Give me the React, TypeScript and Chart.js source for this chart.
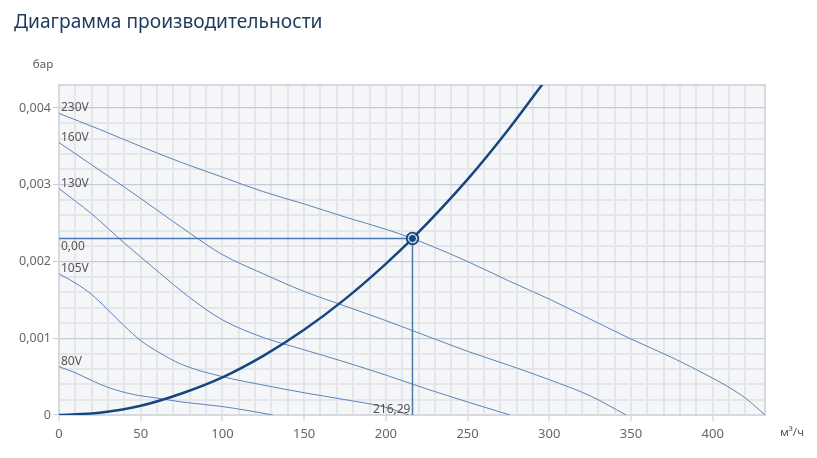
import { useEffect, useRef } from "react";
import { Chart, registerables } from "chart.js";

Chart.register(...registerables);

// fan curves (flow m³/h -> pressure bar)
const q230 = [0, 25, 50, 75, 100, 125, 150, 175, 200, 216.29, 250, 275, 300, 325, 350, 375, 400, 410, 420, 432];
const p230 = [0.00393, 0.00372, 0.0035, 0.00329, 0.0031, 0.00291, 0.00275, 0.00258, 0.00242, 0.0023, 0.002, 0.00175, 0.00151, 0.00125, 0.00099, 0.00075, 0.00048, 0.00036, 0.00022, 0];

const q160 = [0, 20, 40, 60, 80, 100, 125, 150, 175, 200, 225, 250, 275, 300, 325, 347];
const p160 = [0.00355, 0.00326, 0.00297, 0.00267, 0.00237, 0.00209, 0.00184, 0.00161, 0.00142, 0.00123, 0.00103, 0.00083, 0.00065, 0.00046, 0.00025, 0];

const q130 = [0, 20, 40, 60, 80, 100, 125, 150, 175, 200, 225, 250, 276];
const p130 = [0.00295, 0.00262, 0.00224, 0.00188, 0.00153, 0.00124, 0.00101, 0.00085, 0.00069, 0.00052, 0.00034, 0.00017, 0];

const q105 = [0, 10, 20, 30, 40, 50, 60, 75, 100, 125, 150, 175, 200, 214];
const p105 = [0.00184, 0.00172, 0.00157, 0.00137, 0.00116, 0.00097, 0.00083, 0.00066, 0.0005, 0.00039, 0.00029, 0.0002, 0.0001, 0];

const q80 = [0, 10, 20, 30, 45, 60, 75, 100, 115, 131];
const p80 = [0.00063, 0.00055, 0.00045, 0.00036, 0.00027, 0.00022, 0.00017, 0.00011, 0.00006, 0];

// system curve
const qSys = [0, 25, 50, 75, 100, 125, 150, 175, 200, 216.29, 250, 275, 300];
const pSys = [0, 0.00003, 0.00012, 0.00028, 0.00049, 0.00077, 0.00111, 0.00151, 0.00197, 0.0023, 0.00307, 0.00372, 0.00443];

const fanLabels = ["230V", "160V", "130V", "105V", "80V"];
const fanQ = [q230, q160, q130, q105, q80];
const fanP = [p230, p160, p130, p105, p80];

// operating point
const opQ = 216.29;
const opP = 0.0023;

const xMax = 432;
const yMax = 0.0043;

const FONT = "'Noto Sans', sans-serif";
const thin = "#5a85b8";
const dark = "#14477f";
const cross = "#4a78b0";

const pts = (q: number[], p: number[]) => q.map((v, i) => ({ x: v, y: p[i] }));
const isMajorY = (v: number) => Math.abs(v * 1000 - Math.round(v * 1000)) < 1e-6;
const isMajorX = (v: number) => v % 50 === 0;

const textPlugin = {
  id: "texts",
  beforeDatasetsDraw(chart: any) {
    const { ctx, chartArea: a } = chart;
    ctx.save();
    ctx.strokeStyle = "#d6d9de";
    ctx.lineWidth = 2;
    ctx.strokeRect(a.left, a.top, a.right - a.left, a.bottom - a.top);
    ctx.restore();
  },
  beforeDraw(chart: any) {
    const { ctx, chartArea: a } = chart;
    ctx.save();
    ctx.fillStyle = "#f5f6f8";
    ctx.fillRect(a.left, a.top, a.right - a.left, a.bottom - a.top);
    ctx.restore();
  },
  afterDraw(chart: any) {
    const { ctx, scales } = chart;
    const x = scales.x;
    const y = scales.y;
    ctx.save();
    ctx.fillStyle = "#1f3b5b";
    ctx.font = `19.2px ${FONT}`;
    ctx.textBaseline = "alphabetic";
    ctx.textAlign = "left";
    ctx.fillText("Диаграмма производительности", 14, 28);

    ctx.fillStyle = "#555";
    ctx.font = `12px ${FONT}`;
    fanLabels.forEach((l, i) => {
      ctx.fillText(l, x.getPixelForValue(fanQ[i][0]) + 2, y.getPixelForValue(fanP[i][0]) - 2);
    });
    ctx.textBaseline = "top";
    ctx.fillText(opP.toFixed(2).replace(".", ","), x.getPixelForValue(0) + 2, y.getPixelForValue(opP) + 2);
    ctx.textAlign = "right";
    ctx.textBaseline = "alphabetic";
    ctx.fillText(opQ.toFixed(2).replace(".", ","), x.getPixelForValue(opQ) - 2, y.getPixelForValue(0) - 2);

    ctx.font = `11.5px ${FONT}`;
    ctx.textAlign = "center";
    ctx.textBaseline = "middle";
    ctx.fillText("бар", 43, 65);
    ctx.textAlign = "left";
    ctx.fillText("м³/ч", 780, 433);
    ctx.restore();
  },
};

export default function App() {
  const canvasRef = useRef<HTMLCanvasElement>(null);
  const chartRef = useRef<Chart | null>(null);

  useEffect(() => {
    if (!canvasRef.current) return;
    if (chartRef.current) chartRef.current.destroy();

    const fanSets = fanQ.map((q, i) => ({
      label: fanLabels[i],
      data: pts(q, fanP[i]),
      borderColor: thin,
      borderWidth: 1,
      pointRadius: 0,
      showLine: true,
      cubicInterpolationMode: "monotone" as const,
    }));

    chartRef.current = new Chart(canvasRef.current, {
      type: "scatter",
      data: {
        datasets: [
          {
            label: "op-inner",
            data: [{ x: opQ, y: opP }],
            pointRadius: 4,
            backgroundColor: dark,
            borderColor: "rgba(255,255,255,0.85)",
            borderWidth: 1,
          },
          {
            label: "op-outer",
            data: [{ x: opQ, y: opP }],
            pointRadius: 5.8,
            backgroundColor: "rgba(0,0,0,0)",
            borderColor: dark,
            borderWidth: 1.8,
          },
          {
            label: "system",
            data: pts(qSys, pSys),
            borderColor: dark,
            borderWidth: 2.5,
            pointRadius: 0,
            showLine: true,
            cubicInterpolationMode: "monotone" as const,
          },
          {
            label: "h",
            data: [{ x: 0, y: opP }, { x: opQ, y: opP }],
            borderColor: cross,
            borderWidth: 1.5,
            pointRadius: 0,
            showLine: true,
          },
          {
            label: "v",
            data: [{ x: opQ, y: 0 }, { x: opQ, y: opP }],
            borderColor: cross,
            borderWidth: 1.5,
            pointRadius: 0,
            showLine: true,
          },
          ...fanSets,
        ],
      },
      options: {
        responsive: true,
        maintainAspectRatio: false,
        animation: false,
        layout: { padding: { left: 0, top: 85, right: 52, bottom: 0 } },
        plugins: { legend: { display: false }, tooltip: { enabled: false } },
        scales: {
          x: {
            type: "linear",
            min: 0,
            max: xMax,
            afterFit: (s: any) => {
              s.height = 43;
            },
            border: { display: false },
            grid: {
              color: "#e5e6e9",
              lineWidth: 2,
              tickLength: 6,
              tickWidth: 1,
              tickColor: (c: any) => (c.tick && isMajorX(c.tick.value) ? "#c5cbd4" : "rgba(0,0,0,0)"),
            },
            ticks: {
              stepSize: 10,
              autoSkip: false,
              maxRotation: 0,
              padding: 5,
              color: "#666",
              font: { family: FONT, size: 13 },
              callback: (v: any) => (isMajorX(Number(v)) ? String(v) : ""),
            },
          },
          y: {
            min: 0,
            max: yMax,
            afterFit: (s: any) => {
              s.width = 59;
            },
            border: { display: false },
            grid: {
              color: (c: any) => (c.tick && isMajorY(c.tick.value) ? "#c6ccd5" : "#e5e6e9"),
              lineWidth: (c: any) => (c.tick && isMajorY(c.tick.value) ? 1.2 : 2),
              tickLength: 6,
              tickWidth: 1,
              tickColor: (c: any) => (c.tick && isMajorY(c.tick.value) ? "#c5cbd4" : "rgba(0,0,0,0)"),
            },
            ticks: {
              stepSize: 0.0002,
              autoSkip: false,
              padding: 2,
              color: "#666",
              font: { family: FONT, size: 12.5 },
              callback: (v: any) => {
                const n = Number(v);
                if (!isMajorY(n)) return "";
                return n === 0 ? "0" : n.toFixed(3).replace(".", ",");
              },
            },
          },
        },
      },
      plugins: [textPlugin],
    });

    return () => {
      if (chartRef.current) {
        chartRef.current.destroy();
        chartRef.current = null;
      }
    };
  }, []);

  return (
    <div style={{ position: "fixed", left: 0, top: 0, width: 817, height: 458, background: "#fff" }}>
      <canvas ref={canvasRef} />
    </div>
  );
}
